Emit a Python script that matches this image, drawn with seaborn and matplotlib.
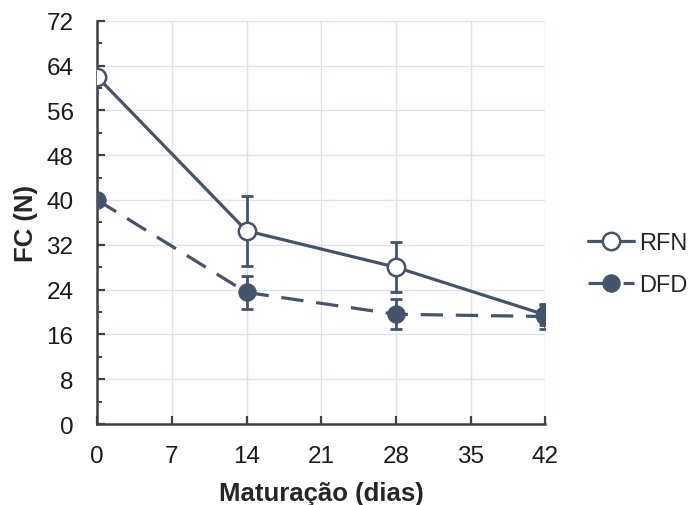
import pandas as pd
import matplotlib
matplotlib.use('Agg')
import matplotlib.pyplot as plt
import seaborn as sns
from matplotlib.ticker import MultipleLocator

# Data
dias = [0, 14, 28, 42]
rfn = [62.0, 34.5, 28.0, 19.5]
rfn_sd = [0.8, 6.3, 4.5, 1.8]
dfd = [40.0, 23.5, 19.6, 19.2]
dfd_sd = [0.8, 3.0, 2.7, 2.2]

cor = '#44546A'

sns.set_style('white')
plt.rcParams['font.family'] = ['Liberation Sans', 'DejaVu Sans']

df = pd.DataFrame({'dias': dias, 'RFN': rfn, 'DFD': dfd})

fig = plt.figure(figsize=(6.99, 5.06), dpi=100)
ax = fig.add_axes([0.139, 0.160, 0.641, 0.797])

# error bars first so markers sit on top
ax.errorbar(dias, rfn, yerr=rfn_sd, fmt='none', ecolor=cor, elinewidth=2,
            capsize=4, capthick=2, zorder=2)
ax.errorbar(dias, dfd, yerr=dfd_sd, fmt='none', ecolor=cor, elinewidth=2,
            capsize=4, capthick=2, zorder=2)

sns.lineplot(data=df, x='dias', y='RFN', ax=ax, color=cor, linewidth=2.3,
             marker='o', markersize=12.5, markerfacecolor='white',
             markeredgecolor=cor, markeredgewidth=1.8, label='RFN', zorder=3)
sns.lineplot(data=df, x='dias', y='DFD', ax=ax, color=cor, linewidth=2.3,
             marker='o', markersize=12.5, markerfacecolor=cor,
             markeredgecolor=cor, dashes=(7, 4), label='DFD', zorder=3)

ax.set_xlim(0, 42)
ax.set_ylim(0, 72)
ax.xaxis.set_major_locator(MultipleLocator(7))
ax.yaxis.set_major_locator(MultipleLocator(8))
ax.yaxis.set_minor_locator(MultipleLocator(4))
ax.grid(True, which='major', color='#DCE2EC', linewidth=1)
ax.set_axisbelow(True)

for s in ['top', 'right']:
    ax.spines[s].set_visible(False)
for s in ['left', 'bottom']:
    ax.spines[s].set_color('#404040')
    ax.spines[s].set_linewidth(1.8)

ax.tick_params(axis='both', which='major', direction='in', length=6, width=1.6,
               color='#404040', labelsize=17.5, labelcolor='#1a1a1a')
ax.tick_params(axis='x', which='major', pad=15)
ax.tick_params(axis='y', which='major', pad=17)
ax.tick_params(axis='y', which='minor', direction='in', length=3.5, width=1.4,
               color='#404040')
ax.tick_params(axis='x', bottom=True)
ax.tick_params(axis='y', left=True, which='both')

ax.set_xlabel('Maturação (dias)', fontsize=18.5, fontweight='bold', labelpad=10)
ax.set_ylabel('FC (N)', fontsize=18.5, fontweight='bold', labelpad=6)

ax.legend(loc='center left', bbox_to_anchor=(1.075, 0.396), frameon=False,
          fontsize=17, handlelength=1.95, handletextpad=0.2, labelspacing=0.85,
          borderaxespad=0)

fig.savefig('out.png', dpi=100)
